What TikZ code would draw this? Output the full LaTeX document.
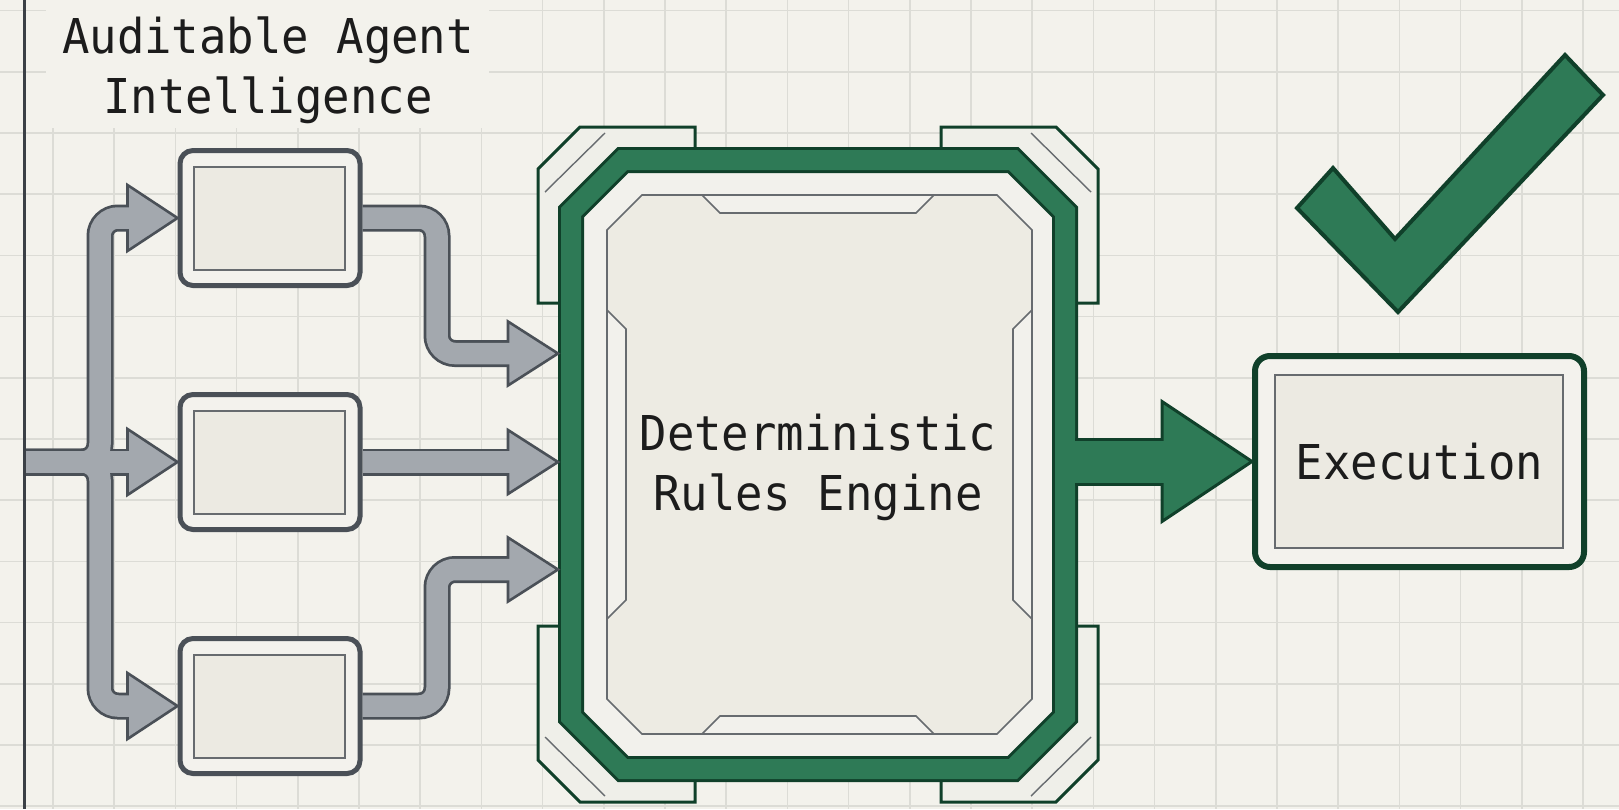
\documentclass[tikz,border=0pt]{standalone}
\usepackage{fontspec}
\newfontfamily\labelfont[FakeStretch=0.95]{DejaVu Sans Mono}

\definecolor{paper}{HTML}{F3F2EC}
\definecolor{gridgray}{HTML}{DCDCD6}
\definecolor{inkgray}{HTML}{3B4046}
\definecolor{inkblack}{HTML}{1C1C1C}
\definecolor{pipegray}{HTML}{A3A8AE}
\definecolor{pipeedge}{HTML}{4A5057}
\definecolor{boxfill}{HTML}{F3F2ED}
\definecolor{slotfill}{HTML}{ECEAE2}
\definecolor{slotedge}{HTML}{676B6F}
\definecolor{rulegreen}{HTML}{2E7A56}
\definecolor{darkgreen}{HTML}{10402A}
\definecolor{bandfill}{HTML}{F2F1EC}
\definecolor{panelfill}{HTML}{EDEBE3}
\definecolor{clampfill}{HTML}{EFEFE9}

\tikzset{
  gridline/.style={draw=gridgray, line width=1.6pt},
  labeltext/.style={font={\labelfont\fontsize{48}{60}\selectfont}, text=inkblack, align=center, inner sep=0pt},
  pipeline/.style={draw=pipeedge, line width=27pt, rounded corners=18pt, shorten >=4pt},
  pipefill/.style={draw=pipegray, line width=21.5pt, rounded corners=18pt},
  pipehead/.style={fill=pipegray, draw=pipeedge, line width=2.6pt, line join=miter},
  agentbox/.style={draw=pipeedge, fill=boxfill, line width=5pt, rounded corners=13pt,
    minimum width=180pt, minimum height=135pt, inner sep=0pt},
  execbox/.style={draw=darkgreen, fill=boxfill, line width=6pt, rounded corners=15pt,
    minimum width=329pt, minimum height=211pt, inner sep=0pt},
  slot/.style={draw=slotedge, fill=slotfill, line width=2pt},
  clamp/.style={draw=darkgreen, fill=clampfill, line width=3pt, line join=miter},
  hairline/.style={draw=slotedge, line width=1.4pt},
  ringdark/.style={fill=bandfill, draw=darkgreen, line width=26pt, line join=miter},
  ringgreen/.style={draw=rulegreen, line width=20pt, line join=miter},
  panel/.style={fill=panelfill, draw=slotedge, line width=1.6pt, line join=miter},
  notch/.style={fill=bandfill, draw=slotedge, line width=1.6pt, line join=miter},
  shaftline/.style={draw=darkgreen, line width=48pt, shorten >=4pt},
  shaftfill/.style={draw=rulegreen, line width=42pt},
  greenhead/.style={fill=rulegreen, draw=darkgreen, line width=3pt, line join=miter},
  checkmark/.style={fill=rulegreen, draw=darkgreen, line width=4pt, line join=miter}
}

\begin{document}
\begin{tikzpicture}[x=1pt, y=-1pt]
\useasboundingbox (0,0) rectangle (1619,809);
\fill[paper] (0,0) rectangle (1619,809);
%
% grid paper
\foreach \gx in {-1,...,25} \draw[gridline] ({53+61.2*\gx},0) -- ({53+61.2*\gx},809);
\foreach \gy in {0,...,13} \draw[gridline] (0,{10.6+61.2*\gy}) -- (1619,{10.6+61.2*\gy});
\fill[paper] (46,0) rectangle (489,128);
%
% title
\node[labeltext] (title) at (268,70.5) {Auditable Agent\\Intelligence};
%
% agents
\node[agentbox] (ag1) at (270,218) {};
\node[agentbox] (ag2) at (270,462) {};
\node[agentbox] (ag3) at (270,706) {};
\draw[slot] ([shift={(16,19)}]ag1.north west) rectangle ([shift={(-18,-18)}]ag1.south east);
\draw[slot] ([shift={(16,19)}]ag2.north west) rectangle ([shift={(-18,-18)}]ag2.south east);
\draw[slot] ([shift={(16,19)}]ag3.north west) rectangle ([shift={(-18,-18)}]ag3.south east);
%
% clamps round the engine
\filldraw[clamp] (695,127) -- (580,127) -- (538,169) -- (538,303) -- (600,303) -- (600,190) -- (695,190) -- cycle;
\filldraw[clamp] (941,127) -- (1056,127) -- (1098,169) -- (1098,303) -- (1036,303) -- (1036,190) -- (941,190) -- cycle;
\filldraw[clamp] (695,802) -- (580,802) -- (538,760) -- (538,626) -- (600,626) -- (600,739) -- (695,739) -- cycle;
\filldraw[clamp] (941,802) -- (1056,802) -- (1098,760) -- (1098,626) -- (1036,626) -- (1036,739) -- (941,739) -- cycle;
\draw[hairline] (605,133) -- (545,192);
\draw[hairline] (1031,133) -- (1091,192);
\draw[hairline] (605,796) -- (545,737);
\draw[hairline] (1031,796) -- (1091,737);
%
% engine ring
\filldraw[ringdark] (623,160) -- (1013,160) -- (1065,212) -- (1065,717) -- (1013,769) -- (623,769) -- (571,717) -- (571,212) -- cycle;
\draw[ringgreen] (623,160) -- (1013,160) -- (1065,212) -- (1065,717) -- (1013,769) -- (623,769) -- (571,717) -- (571,212) -- cycle;
%
% engine panel
\filldraw[panel] (642,195) -- (997,195) -- (1032,230) -- (1032,699) -- (997,734) -- (642,734) -- (607,699) -- (607,230) -- cycle;
\filldraw[notch] (702,195) -- (720,213) -- (916,213) -- (934,195) -- cycle;
\filldraw[notch] (702,734) -- (720,716) -- (916,716) -- (934,734) -- cycle;
\filldraw[notch] (607,310) -- (626,329) -- (626,600) -- (607,619) -- cycle;
\filldraw[notch] (1032,310) -- (1013,329) -- (1013,600) -- (1032,619) -- cycle;
\node[labeltext, minimum width=520pt, minimum height=635pt, outer sep=0pt] (engine) at (818,467) {Deterministic\\Rules Engine};
%
% execution
\node[execbox] (exec) at (1419.5,461.5) {};
\draw[slot] ([shift={(23,22)}]exec.north west) rectangle ([shift={(-24,-22)}]exec.south east);
\node[labeltext] (execlabel) at (exec) {Execution};
%
% pipes from the agents
\coordinate (feed) at (25,462);
\coordinate (split) at (100,462);
\coordinate (riser) at (437,462);
\coordinate (in1) at ([yshift=113.5pt]engine.west);
\coordinate (in2) at (engine.west |- ag2.east);
\coordinate (in3) at ([yshift=-102.5pt]engine.west);
%
\filldraw[pipehead] (ag1.west) -- ++(-50,-33) -- ++(0,66) -- cycle;
\filldraw[pipehead] (ag2.west) -- ++(-50,-33) -- ++(0,66) -- cycle;
\filldraw[pipehead] (ag3.west) -- ++(-50,-33) -- ++(0,66) -- cycle;
\filldraw[pipehead] (in1) -- ++(-50,-32) -- ++(0,64) -- cycle;
\filldraw[pipehead] (in2) -- ++(-50,-32) -- ++(0,64) -- cycle;
\filldraw[pipehead] (in3) -- ++(-50,-32) -- ++(0,64) -- cycle;
%
\draw[pipeline] (feed) -- (split) -- (split |- ag1.west) -- ([xshift=-46pt]ag1.west);
\draw[pipeline] (feed) -- ([xshift=-46pt]ag2.west);
\draw[pipeline] (feed) -- (split) -- (split |- ag3.west) -- ([xshift=-46pt]ag3.west);
\draw[pipeline] (ag1.east) -- (riser |- ag1.east) -- (riser |- in1) -- ([xshift=-46pt]in1);
\draw[pipeline] (ag2.east) -- ([xshift=-46pt]in2);
\draw[pipeline] (ag3.east) -- (riser |- ag3.east) -- (riser |- in3) -- ([xshift=-46pt]in3);
%
\draw[pipefill] (feed) -- (split) -- (split |- ag1.west) -- ([xshift=-46pt]ag1.west);
\draw[pipefill] (feed) -- ([xshift=-46pt]ag2.west);
\draw[pipefill] (feed) -- (split) -- (split |- ag3.west) -- ([xshift=-46pt]ag3.west);
\draw[pipefill] (ag1.east) -- (riser |- ag1.east) -- (riser |- in1) -- ([xshift=-46pt]in1);
\draw[pipefill] (ag2.east) -- ([xshift=-46pt]in2);
\draw[pipefill] (ag3.east) -- (riser |- ag3.east) -- (riser |- in3) -- ([xshift=-46pt]in3);
%
\draw[inkgray, line width=3pt] (24,0) -- (24,809);
%
% engine to execution
\coordinate (outlet) at (engine.east |- exec.west);
\filldraw[greenhead] (exec.west) -- ++(-90,-60) -- ++(0,120) -- cycle;
\draw[shaftline] ([xshift=-3pt]outlet) -- ([xshift=-86pt]exec.west);
\draw[shaftfill] ([xshift=-3pt]outlet) -- ([xshift=-86pt]exec.west);
%
% approval tick
\filldraw[checkmark] (1297,208) -- (1333,168) -- (1395,239) -- (1565,55) -- (1603,95) -- (1398,312) -- cycle;
%
\end{tikzpicture}
\end{document}
